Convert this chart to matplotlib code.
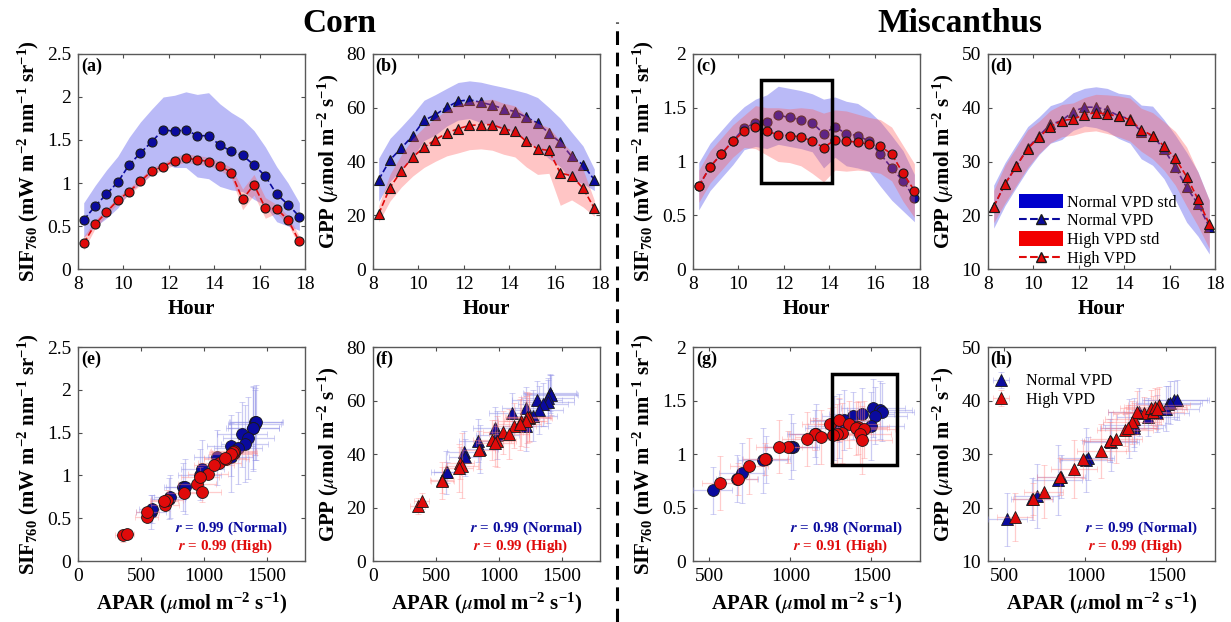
import numpy as np
import matplotlib
matplotlib.use('Agg')
import matplotlib.pyplot as plt
from matplotlib.patches import Rectangle, Patch
from matplotlib.lines import Line2D
from matplotlib.ticker import FormatStrFormatter

plt.rcParams['font.family'] = ['Liberation Serif', 'DejaVu Serif']
plt.rcParams['mathtext.fontset'] = 'stix'
plt.rcParams['mathtext.default'] = 'regular'

# horas (meia-hora)
hora = [8.25, 8.75, 9.25, 9.75, 10.25, 10.75, 11.25, 11.75, 12.25, 12.75,
        13.25, 13.75, 14.25, 14.75, 15.25, 15.75, 16.25, 16.75, 17.25, 17.75]

# Milho (Corn)
sif_milho_normal = [0.57, 0.73, 0.87, 1.01, 1.21, 1.35, 1.48, 1.62, 1.60, 1.62,
                    1.55, 1.55, 1.44, 1.37, 1.32, 1.21, 1.08, 0.87, 0.75, 0.61]
sif_milho_normal_sd = [0.20, 0.24, 0.28, 0.30, 0.32, 0.36, 0.38, 0.38, 0.42, 0.44,
                       0.48, 0.50, 0.48, 0.45, 0.42, 0.40, 0.34, 0.32, 0.25, 0.16]
sif_milho_alto = [0.30, 0.52, 0.66, 0.80, 0.90, 1.02, 1.14, 1.19, 1.26, 1.29,
                  1.27, 1.25, 1.20, 1.12, 0.81, 0.98, 0.71, 0.70, 0.57, 0.32]
sif_milho_alto_sd = [0.08, 0.05, 0.04, 0.04, 0.04, 0.04, 0.04, 0.04, 0.05, 0.05,
                     0.05, 0.05, 0.05, 0.06, 0.12, 0.12, 0.12, 0.05, 0.05, 0.06]
gpp_milho_normal = [33.2, 40.6, 45.0, 49.6, 55.3, 57.4, 60.2, 62.4, 63.0, 62.0,
                    61.0, 59.6, 58.6, 56.5, 54.3, 50.6, 47.1, 41.9, 38.8, 33.2]
gpp_milho_normal_sd = [8, 8, 8, 8, 7.5, 7.5, 7, 7, 7, 7.5,
                       7.5, 8, 8, 9, 9.5, 9.5, 9, 9, 7, 4]
gpp_milho_alto = [20.5, 30.3, 36.5, 41.6, 45.3, 48.1, 50.6, 52.2, 53.4, 53.7,
                  53.7, 52.2, 51.2, 47.5, 44.7, 44.1, 35.7, 34.7, 30.1, 22.6]
gpp_milho_alto_sd = [3, 5, 6, 7, 7.5, 8, 8.5, 9, 9, 9,
                     9.5, 9.5, 9.5, 9.5, 9.5, 8.5, 12, 9, 7, 3]
apar_milho_normal = [580, 720, 830, 965, 1100, 1215, 1300, 1405, 1400, 1415,
                     1385, 1390, 1350, 1320, 1270, 1210, 985, 845, 730, 590]
apar_milho_normal_sd = [120, 130, 150, 170, 180, 190, 200, 210, 210, 210,
                        210, 200, 200, 190, 190, 180, 170, 150, 130, 110]
apar_milho_alto = [355, 545, 690, 840, 945, 1030, 1120, 1175, 1240, 1235,
                   1225, 1210, 1165, 1080, 985, 965, 705, 680, 550, 385]
apar_milho_alto_sd = [60, 90, 110, 130, 150, 160, 170, 180, 180, 180,
                      180, 170, 170, 160, 150, 150, 130, 110, 90, 60]

# Miscanthus
sif_misc_normal = [0.77, 0.95, 1.07, 1.19, 1.31, 1.36, 1.37, 1.43, 1.41, 1.39,
                   1.36, 1.26, 1.32, 1.26, 1.24, 1.19, 1.07, 0.94, 0.82, 0.66]
sif_misc_normal_sd = [0.22, 0.22, 0.22, 0.22, 0.20, 0.22, 0.25, 0.27, 0.27, 0.27,
                      0.27, 0.32, 0.28, 0.30, 0.30, 0.28, 0.30, 0.30, 0.28, 0.22]
sif_misc_alto = [0.77, 0.95, 1.07, 1.19, 1.28, 1.32, 1.28, 1.25, 1.24, 1.23,
                 1.19, 1.13, 1.20, 1.19, 1.18, 1.16, 1.14, 1.07, 0.89, 0.73]
sif_misc_alto_sd = [0.15, 0.15, 0.15, 0.15, 0.15, 0.20, 0.22, 0.25, 0.25, 0.27,
                    0.30, 0.32, 0.28, 0.28, 0.26, 0.25, 0.25, 0.25, 0.26, 0.25]
gpp_misc_normal = [21.6, 25.8, 29.2, 32.5, 34.8, 36.9, 37.6, 39.3, 40.1, 40.1,
                   39.6, 38.5, 37.9, 35.5, 34.8, 32.3, 28.9, 25.2, 22.1, 17.8]
gpp_misc_normal_sd = [4, 4, 4, 4, 3.5, 3.5, 3.5, 3.5, 3.5, 3.8,
                      4, 4.2, 4.5, 5, 5.5, 5.5, 6, 6.5, 6, 5]
gpp_misc_alto = [21.6, 25.8, 29.1, 32.4, 34.5, 36.5, 37.6, 37.9, 38.7, 39.1,
                 38.8, 38.4, 37.8, 35.9, 34.8, 32.9, 30.6, 27.2, 23.0, 18.3]
gpp_misc_alto_sd = [3, 3.5, 3.5, 3.5, 3, 3, 3, 3, 3.2, 3.4,
                    3.6, 3.8, 4, 4, 4.3, 4.5, 5, 5.5, 5, 4.5]
apar_misc_normal = [670, 850, 1015, 1150, 1300, 1385, 1440, 1510, 1550, 1565,
                    1520, 1500, 1330, 1300, 1270, 1160, 1005, 830, 700, 520]
apar_misc_normal_sd = [130, 150, 160, 170, 180, 190, 200, 200, 200, 200,
                       200, 200, 190, 190, 180, 170, 160, 150, 140, 120]
apar_misc_alto = [675, 845, 985, 1155, 1245, 1300, 1360, 1420, 1405, 1455,
                  1430, 1440, 1320, 1290, 1265, 1190, 1100, 930, 745, 565]
apar_misc_alto_sd = [120, 140, 150, 160, 170, 180, 190, 190, 190, 190,
                     190, 190, 180, 180, 170, 160, 150, 140, 120, 110]

r_texto = [('0.99', '0.99'), ('0.99', '0.99'), ('0.98', '0.91'), ('0.99', '0.99')]

azul = (0.04, 0.04, 0.62)
vermelho = (0.88, 0.04, 0.04)
azul_claro = (0.73, 0.73, 0.97)

fig = plt.figure(figsize=(12.31, 6.22), dpi=100)

lefts = [0.0634, 0.303, 0.563, 0.8026]
w = 0.1844
topo = [fig.add_axes([l, 0.5675, w, 0.3457]) for l in lefts]
baixo = [fig.add_axes([l, 0.098, w, 0.344]) for l in lefts]

sif_lab = r'SIF$_{760}$ (mW m$^{-2}$ nm$^{-1}$ sr$^{-1}$)'
gpp_lab = r'GPP ($\mathit{\mu}$mol m$^{-2}$ s$^{-1}$)'
apar_lab = r'APAR ($\mathit{\mu}$mol m$^{-2}$ s$^{-1}$)'

series_topo = [
    (sif_milho_normal, sif_milho_normal_sd, sif_milho_alto, sif_milho_alto_sd, 'o', (0, 2.5), np.arange(0, 2.51, 0.5), sif_lab),
    (gpp_milho_normal, gpp_milho_normal_sd, gpp_milho_alto, gpp_milho_alto_sd, '^', (0, 80), np.arange(0, 81, 20), gpp_lab),
    (sif_misc_normal, sif_misc_normal_sd, sif_misc_alto, sif_misc_alto_sd, 'o', (0, 2), np.arange(0, 2.01, 0.5), sif_lab),
    (gpp_misc_normal, gpp_misc_normal_sd, gpp_misc_alto, gpp_misc_alto_sd, '^', (10, 50), np.arange(10, 51, 10), gpp_lab),
]
letras_topo = ['(a)', '(b)', '(c)', '(d)']
letras_baixo = ['(e)', '(f)', '(g)', '(h)']

h = np.array(hora)


def estilo(ax):
    ax.tick_params(direction='in', top=True, right=True, labelsize=14, length=3,
                   color='0.3', pad=5)
    for s in ax.spines.values():
        s.set_color('0.35')
        s.set_linewidth(1.0)


for ax, (yn, sn, ya, sa, mk, ylim, yt, lab), let in zip(topo, series_topo, letras_topo):
    yn, sn, ya, sa = map(np.array, (yn, sn, ya, sa))
    ms = 6.5 if mk == 'o' else 7
    ax.fill_between(h, yn - sn, yn + sn, color=azul_claro, lw=0, zorder=1)
    ax.plot(h, yn, '--', color=azul, lw=1.2, marker=mk, ms=ms, mfc=azul, mec='0.1', mew=0.8, zorder=2)
    ax.fill_between(h, ya - sa, ya + sa, color=(1.0, 0.35, 0.35), alpha=0.35, lw=0, zorder=3)
    ax.plot(h, ya, '--', color=vermelho, lw=1.2, marker=mk, ms=ms, mfc=vermelho, mec='0.1', mew=0.8, zorder=4)
    ax.set_xlim(8, 18)
    ax.set_xticks([8, 10, 12, 14, 16, 18])
    ax.set_ylim(*ylim)
    ax.set_yticks(yt)
    ax.yaxis.set_major_formatter(FormatStrFormatter('%g'))
    ax.set_xlabel('Hour', fontsize=15, fontweight='bold', labelpad=4)
    ax.set_ylabel(lab, fontsize=15, fontweight='bold', labelpad=4)
    ax.text(0.012, 0.985, let, transform=ax.transAxes, ha='left', va='top',
            fontsize=13, fontweight='bold', zorder=6)
    estilo(ax)

# retangulo em (c)
topo[2].add_patch(Rectangle((11.0, 0.8), 3.1, 0.96, fill=False, ec='k', lw=2.5, zorder=5))

# legenda em (d)
handles = [Patch(facecolor=(0.0, 0.0, 0.8), edgecolor='none'),
           Line2D([], [], color=azul, ls='--', marker='^', ms=7, mfc=azul, mec='0.1'),
           Patch(facecolor=(0.95, 0.0, 0.0), edgecolor='none'),
           Line2D([], [], color=vermelho, ls='--', marker='^', ms=7, mfc=vermelho, mec='0.1')]
topo[3].legend(handles, ['Normal VPD std', 'Normal VPD', 'High VPD std', 'High VPD'],
               loc='upper left', bbox_to_anchor=(0.135, 0.35), frameon=False,
               fontsize=11.7, handlelength=2.7, handleheight=1.0, labelspacing=0.12,
               handletextpad=0.3, borderpad=0.0, borderaxespad=0.0)

series_baixo = [
    (apar_milho_normal, apar_milho_normal_sd, sif_milho_normal, sif_milho_normal_sd,
     apar_milho_alto, apar_milho_alto_sd, sif_milho_alto, sif_milho_alto_sd, 'o', (0, 1800), (0, 2.5), np.arange(0, 2.51, 0.5), sif_lab),
    (apar_milho_normal, apar_milho_normal_sd, gpp_milho_normal, gpp_milho_normal_sd,
     apar_milho_alto, apar_milho_alto_sd, gpp_milho_alto, gpp_milho_alto_sd, '^', (0, 1800), (0, 80), np.arange(0, 81, 20), gpp_lab),
    (apar_misc_normal, apar_misc_normal_sd, sif_misc_normal, sif_misc_normal_sd,
     apar_misc_alto, apar_misc_alto_sd, sif_misc_alto, sif_misc_alto_sd, 'o', (400, 1800), (0, 2), np.arange(0, 2.01, 0.5), sif_lab),
    (apar_misc_normal, apar_misc_normal_sd, gpp_misc_normal, gpp_misc_normal_sd,
     apar_misc_alto, apar_misc_alto_sd, gpp_misc_alto, gpp_misc_alto_sd, '^', (400, 1800), (10, 50), np.arange(10, 51, 10), gpp_lab),
]

for i, (ax, s, let) in enumerate(zip(baixo, series_baixo, letras_baixo)):
    xn, xsn, yn, ysn, xa, xsa, ya, ysa, mk, xlim, ylim, yt, lab = s
    ms = 8.5
    en = ax.errorbar(xn, yn, xerr=xsn, yerr=ysn, fmt=mk, ms=ms, mfc=azul, mec='0.1', mew=0.6,
                     ecolor=(0.55, 0.55, 0.9, 0.45), elinewidth=0.9, capsize=2.5, zorder=3)
    ea = ax.errorbar(xa, ya, xerr=xsa, yerr=ysa, fmt=mk, ms=ms, mfc=vermelho, mec='0.1', mew=0.6,
                     ecolor=(1.0, 0.5, 0.5, 0.4), elinewidth=0.9, capsize=2.5, zorder=4)
    ax.set_xlim(*xlim)
    ax.set_xticks([500, 1000, 1500] if xlim[0] == 400 else [0, 500, 1000, 1500])
    ax.set_ylim(*ylim)
    ax.set_yticks(yt)
    ax.yaxis.set_major_formatter(FormatStrFormatter('%g'))
    ax.set_xlabel(apar_lab, fontsize=15, fontweight='bold', labelpad=4)
    ax.set_ylabel(lab, fontsize=15, fontweight='bold', labelpad=4)
    ax.text(0.012, 0.985, let, transform=ax.transAxes, ha='left', va='top',
            fontsize=13, fontweight='bold', zorder=6)
    rn, ra = r_texto[i]
    ax.text(0.925, 0.155, r'$\mathbfit{r}$ = ' + rn + ' (Normal)', transform=ax.transAxes,
            ha='right', va='center', color=azul, fontsize=10.8, fontweight='bold', zorder=6)
    ax.text(0.86, 0.07, r'$\mathbfit{r}$ = ' + ra + ' (High)', transform=ax.transAxes,
            ha='right', va='center', color=vermelho, fontsize=10.8, fontweight='bold', zorder=6)
    estilo(ax)
    if i == 3:
        ax.legend([en, ea], ['Normal VPD', 'High VPD'], loc='upper left',
                  bbox_to_anchor=(-0.005, 0.877), frameon=False, fontsize=11.7,
                  handlelength=1.7, handletextpad=0.7, labelspacing=0.15,
                  borderpad=0.0, borderaxespad=0.0)

# retangulo em (g)
baixo[2].add_patch(Rectangle((1260, 0.9), 395, 0.85, fill=False, ec='k', lw=2.5, zorder=5))

fig.text(0.276, 0.962, 'Corn', ha='center', va='center', fontsize=24, fontweight='bold')
fig.text(0.78, 0.962, 'Miscanthus', ha='center', va='center', fontsize=24, fontweight='bold')
fig.add_artist(Line2D([0.5012, 0.5012], [0.0, 0.965], transform=fig.transFigure,
                      color='k', lw=2.2, ls=(0, (4.5, 2.5))))

plt.savefig('out.png', dpi=100)
